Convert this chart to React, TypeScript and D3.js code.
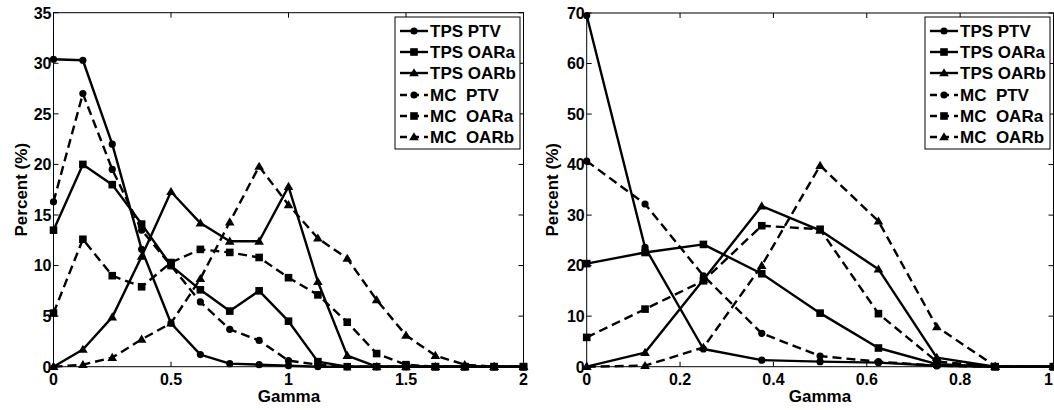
import React from "react";
import * as d3 from "d3";

// Gamma bins for the two panels
const gammaLeft = [0, 0.125, 0.25, 0.375, 0.5, 0.625, 0.75, 0.875, 1, 1.125, 1.25, 1.375, 1.5, 1.625, 1.75, 1.875, 2];
const gammaRight = [0, 0.125, 0.25, 0.375, 0.5, 0.625, 0.75, 0.875, 1];

// Left panel: percent of points per gamma bin
const tpsPtvLeft = [30.4, 30.3, 22.0, 11.6, 4.3, 1.2, 0.3, 0.2, 0.1, 0, 0, 0, 0, 0, 0, 0, 0];
const tpsOarALeft = [13.5, 20.0, 18.0, 14.1, 10.0, 7.6, 5.5, 7.5, 4.5, 0.5, 0, 0, 0, 0, 0, 0, 0];
const tpsOarBLeft = [0, 1.7, 4.9, 10.9, 17.3, 14.2, 12.4, 12.4, 17.8, 8.4, 1.1, 0, 0, 0, 0, 0, 0];
const mcPtvLeft = [16.3, 27.0, 19.5, 13.5, 10.0, 6.4, 3.7, 2.6, 0.6, 0.2, 0, 0, 0, 0, 0, 0, 0];
const mcOarALeft = [5.3, 12.6, 9.0, 7.9, 10.3, 11.6, 11.3, 10.8, 8.8, 7.1, 4.4, 1.3, 0.2, 0, 0, 0, 0];
const mcOarBLeft = [0, 0.2, 0.9, 2.7, 4.3, 8.7, 14.3, 19.8, 16.0, 12.7, 10.7, 6.6, 3.1, 1.1, 0.2, 0, 0];

// Right panel
const tpsPtvRight = [69.5, 23.6, 3.5, 1.3, 1.0, 0.8, 0.2, 0, 0];
const tpsOarARight = [20.4, 22.6, 24.2, 18.4, 10.6, 3.7, 0.5, 0, 0];
const tpsOarBRight = [0, 2.8, 17.2, 31.8, 27.0, 19.3, 1.8, 0, 0];
const mcPtvRight = [40.7, 32.2, 18.0, 6.6, 2.1, 1.0, 0.2, 0, 0];
const mcOarARight = [5.8, 11.4, 17.0, 27.9, 27.2, 10.5, 1.0, 0, 0];
const mcOarBRight = [0, 0.2, 3.8, 20.0, 39.8, 28.8, 7.9, 0.1, 0];

const seriesNames = ["TPS PTV", "TPS OARa", "TPS OARb", "MC  PTV", "MC  OARa", "MC  OARb"];
const seriesMarkers = ["circle", "square", "triangle", "circle", "square", "triangle"];
const seriesDashed = [false, false, false, true, true, true];

const leftTicksX = [0, 0.5, 1, 1.5, 2];
const leftTicksY = [0, 5, 10, 15, 20, 25, 30, 35];
const rightTicksX = [0, 0.2, 0.4, 0.6, 0.8, 1];
const rightTicksY = [0, 10, 20, 30, 40, 50, 60, 70];

const FONT = "'Liberation Sans', Arial, sans-serif";
const DASH = "9,5";

type Marker = string;

function MarkerShape({ kind, x, y }: { kind: Marker; x: number; y: number }) {
  if (kind === "circle") return <circle cx={x} cy={y} r={3.6} fill="#000" />;
  if (kind === "square") return <rect x={x - 3.8} y={y - 3.8} width={7.6} height={7.6} fill="#000" />;
  const s = 4.8;
  return <path d={`M${x},${y - s}L${x + s},${y + s * 0.7}L${x - s},${y + s * 0.7}Z`} fill="#000" />;
}

type PanelProps = {
  x0: number;
  x1: number;
  yTop: number;
  yBottom: number;
  xMax: number;
  yMax: number;
  xs: number[];
  series: number[][];
  ticksX: number[];
  ticksY: number[];
  legendX: number;
  labelX: number;
  gammaX: number;
};

function Panel(p: PanelProps) {
  const x = d3.scaleLinear().domain([0, p.xMax]).range([p.x0, p.x1]);
  const y = d3.scaleLinear().domain([0, p.yMax]).range([p.yBottom, p.yTop]);
  const line = d3
    .line<number>()
    .x((_, i) => x(p.xs[i]))
    .y((d) => y(d));
  const tl = 5;
  const fmtX = (v: number) => (v === 0 ? "0" : String(v));
  const legendRows = [31, 52, 73, 95, 116, 137];
  return (
    <g>
      {/* data lines */}
      {p.series.map((vals, si) => (
        <g key={si}>
          <path
            d={line(vals) || ""}
            fill="none"
            stroke="#000"
            strokeWidth={2.4}
            strokeDasharray={seriesDashed[si] ? DASH : undefined}
            strokeLinejoin="round"
          />
          {vals.map((v, i) => (
            <MarkerShape key={i} kind={seriesMarkers[si]} x={x(p.xs[i])} y={y(v)} />
          ))}
        </g>
      ))}
      {/* axes box */}
      <rect x={p.x0} y={p.yTop} width={p.x1 - p.x0} height={p.yBottom - p.yTop} fill="none" stroke="#000" strokeWidth={1} />
      {p.ticksX.map((t) => {
        // keep the last label of a panel that touches the page edge fully visible
        const atEdge = x(t) > 1045;
        return (
          <g key={"x" + t}>
            <line x1={x(t)} x2={x(t)} y1={p.yBottom} y2={p.yBottom - tl} stroke="#000" />
            <line x1={x(t)} x2={x(t)} y1={p.yTop} y2={p.yTop + tl} stroke="#000" />
            <text
              x={atEdge ? 1053 : x(t)}
              y={385}
              textAnchor={atEdge ? "end" : "middle"}
              fontFamily={FONT}
              fontWeight="bold"
              fontSize={16}
            >
              {fmtX(t)}
            </text>
          </g>
        );
      })}
      {p.ticksY.map((t) => (
        <g key={"y" + t}>
          <line x1={p.x0} x2={p.x0 + tl} y1={y(t)} y2={y(t)} stroke="#000" />
          <line x1={p.x1} x2={p.x1 - tl} y1={y(t)} y2={y(t)} stroke="#000" />
          <text x={p.x0 - 2} y={y(t) + 5.8} textAnchor="end" fontFamily={FONT} fontWeight="bold" fontSize={16}>
            {t}
          </text>
        </g>
      ))}
      <text x={p.gammaX} y={402} textAnchor="middle" fontFamily={FONT} fontWeight="bold" fontSize={17}>
        Gamma
      </text>
      <text
        transform={`translate(${p.labelX},${(p.yTop + p.yBottom) / 2}) rotate(-90)`}
        textAnchor="middle"
        fontFamily={FONT}
        fontWeight="bold"
        fontSize={17}
      >
        Percent (%)
      </text>
      {/* legend */}
      <rect x={p.legendX} y={17} width={125} height={132} fill="#fff" stroke="#000" strokeWidth={1} />
      {seriesNames.map((name, i) => (
        <g key={name}>
          <line
            x1={p.legendX + 5}
            x2={p.legendX + 33}
            y1={legendRows[i]}
            y2={legendRows[i]}
            stroke="#000"
            strokeWidth={2.4}
            strokeDasharray={seriesDashed[i] ? "7,5" : undefined}
          />
          <MarkerShape kind={seriesMarkers[i]} x={p.legendX + 19} y={legendRows[i]} />
          <text
            x={p.legendX + 35}
            y={legendRows[i] + 6}
            fontFamily={FONT}
            fontWeight="bold"
            fontSize={17}
            style={{ whiteSpace: "pre" }}
          >
            {name}
          </text>
        </g>
      ))}
    </g>
  );
}

export default function App() {
  return (
    <svg
      width={1054}
      height={410}
      style={{ position: "absolute", left: 0, top: 0, display: "block", background: "#fff" }}
    >
      <rect width={1054} height={410} fill="#fff" />
      <Panel
        x0={53.5}
        x1={523.5}
        yTop={12.7}
        yBottom={366.7}
        xMax={2}
        yMax={35}
        xs={gammaLeft}
        series={[tpsPtvLeft, tpsOarALeft, tpsOarBLeft, mcPtvLeft, mcOarALeft, mcOarBLeft]}
        ticksX={leftTicksX}
        ticksY={leftTicksY}
        legendX={395}
        labelX={27}
        gammaX={289}
      />
      <Panel
        x0={586.7}
        x1={1053.5}
        yTop={13}
        yBottom={366.7}
        xMax={1}
        yMax={70}
        xs={gammaRight}
        series={[tpsPtvRight, tpsOarARight, tpsOarBRight, mcPtvRight, mcOarARight, mcOarBRight]}
        ticksX={rightTicksX}
        ticksY={rightTicksY}
        legendX={925}
        labelX={558}
        gammaX={820}
      />
    </svg>
  );
}
